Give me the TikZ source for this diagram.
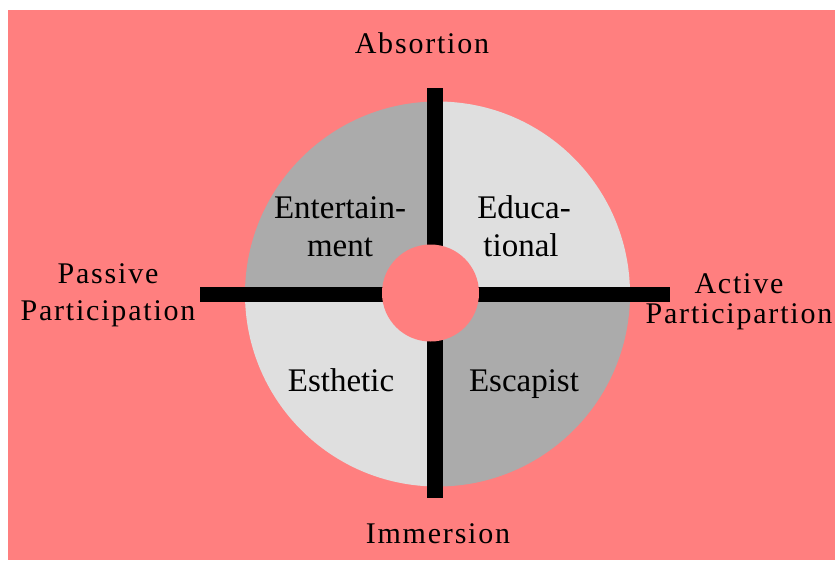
\documentclass[tikz,border=0pt]{standalone}
\usepackage{fontspec}
\setmainfont{Liberation Serif}
\newfontfamily\spacedfont[LetterSpace=6]{Liberation Serif}
\usepackage{xcolor}

\definecolor{salmon}{HTML}{FF7F7F}
\definecolor{quaddark}{HTML}{ABABAB}
\definecolor{quadlight}{HTML}{DFDFDF}

\begin{document}
\begin{tikzpicture}[x=1pt, y=-1pt,
  axisbar/.style={fill=black},
  quadlabel/.style={anchor=base, inner sep=0pt, font=\fontsize{33}{38}\selectfont},
  poletext/.style={anchor=base, inner sep=0pt, font=\spacedfont\fontsize{30}{37}\selectfont}]
  \useasboundingbox (0,0) rectangle (835,560);
  \fill[salmon] (8,10) rectangle (835,560);
  \coordinate (ctr) at (437.5,294);
  % four quadrants of the disc
  \begin{scope}
    \clip (ctr) circle[radius=192.5];
    \fill[quaddark]  (ctr) rectangle ++(-200,-200);
    \fill[quadlight] (ctr) rectangle ++(200,-200);
    \fill[quadlight] (ctr) rectangle ++(-200,200);
    \fill[quaddark]  (ctr) rectangle ++(200,200);
  \end{scope}
  % axes and hub
  \fill[axisbar] (200,287) rectangle (670,302);
  \fill[axisbar] (427,88) rectangle (443,498);
  \fill[salmon] (430.5,293) circle[radius=48.5];

  \node[quadlabel] (ent1) at (340,218) {Entertain-};
  \node[quadlabel] (ent2) at (340,256) {ment};
  \node[quadlabel] (edu1) at (524,218) {Educa-};
  \node[quadlabel] (edu2) at (521,256) {tional};
  \node[quadlabel] (esth) at (341,391) {Esthetic};
  \node[quadlabel] (esc)  at (524,391) {Escapist};

  \node[poletext] (absorb)   at (422,53)  {Absortion};
  \node[poletext] (immerse)  at (438,543) {Immersion};
  \node[poletext] (passive1) at (108,283) {Passive};
  \node[poletext] (passive2) at (108,320) {Participation};
  \node[poletext] (active1)  at (739,293) {Active};
  \node[poletext] (active2)  at (739,323) {Participartion};
\end{tikzpicture}
\end{document}
